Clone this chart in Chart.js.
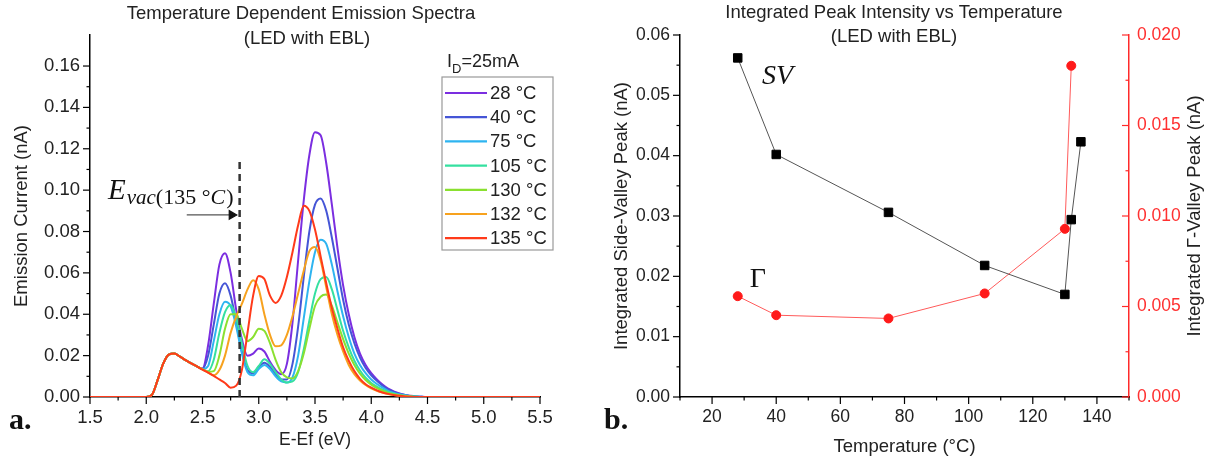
<!DOCTYPE html>
<html>
<head>
<meta charset="utf-8">
<script src="https://cdn.jsdelivr.net/npm/chart.js@4.4.1/dist/chart.umd.min.js"></script>
<style>
  html, body { margin: 0; padding: 0; background: #fff; }
  #wrap { position: relative; width: 1212px; height: 461px; }
  #left { position: absolute; left: 0; top: 0; }
  #right { position: absolute; left: 600px; top: 0; }
</style>
</head>
<body>
<div id="wrap">
  <canvas id="left" width="600" height="461"></canvas>
  <canvas id="right" width="612" height="461"></canvas>
</div>
<script>
// ---- panel a: emission spectra ----
const energies = [1.5, 2.0, 2.05, 2.1, 2.15, 2.2, 2.25, 2.3, 2.35, 2.4, 2.45,
  2.5, 2.55, 2.6, 2.65, 2.7, 2.75, 2.8, 2.85, 2.9, 2.95,
  3.0, 3.05, 3.1, 3.15, 3.2, 3.25, 3.3, 3.35, 3.4, 3.45,
  3.5, 3.55, 3.6, 3.65, 3.7, 3.75, 3.8, 3.85, 3.9, 3.95,
  4.0, 4.05, 4.1, 4.15, 4.2, 4.25, 4.3, 4.35, 4.4, 4.45, 4.5, 5.5];

const spec28 = [0, 0, 0.001, 0.008, 0.016, 0.0205, 0.021, 0.0195, 0.0178, 0.0162, 0.0148,
  0.0138, 0.025, 0.045, 0.064, 0.0695, 0.060, 0.042, 0.028, 0.020, 0.021,
  0.0235, 0.022, 0.017, 0.013, 0.011, 0.016, 0.036, 0.066, 0.095, 0.117,
  0.128, 0.1265, 0.113, 0.093, 0.072, 0.054, 0.040, 0.029, 0.021, 0.0155,
  0.0115, 0.0085, 0.006, 0.004, 0.0027, 0.0017, 0.001, 0.0006, 0.0003, 0.0001, 0, 0];
const spec40 = [0, 0, 0.001, 0.008, 0.016, 0.0205, 0.021, 0.0195, 0.0178, 0.0162, 0.0148,
  0.0136, 0.020, 0.035, 0.050, 0.055, 0.049, 0.036, 0.022, 0.013, 0.0115,
  0.0145, 0.0165, 0.0145, 0.011, 0.0085, 0.0085, 0.016, 0.034, 0.058, 0.080,
  0.093, 0.096, 0.090, 0.077, 0.062, 0.047, 0.035, 0.026, 0.019, 0.014,
  0.0105, 0.0078, 0.0055, 0.0037, 0.0025, 0.0016, 0.001, 0.0005, 0.0002, 0.0001, 0, 0];
const spec75 = [0, 0, 0.001, 0.008, 0.016, 0.0205, 0.021, 0.0195, 0.0178, 0.0162, 0.0148,
  0.0135, 0.015, 0.027, 0.040, 0.046, 0.044, 0.034, 0.021, 0.012, 0.0105,
  0.0135, 0.0155, 0.0135, 0.010, 0.0075, 0.007, 0.0095, 0.020, 0.038, 0.056,
  0.070, 0.076, 0.074, 0.064, 0.051, 0.039, 0.029, 0.021, 0.0155, 0.0115,
  0.0085, 0.0063, 0.0045, 0.003, 0.002, 0.0013, 0.0008, 0.0004, 0.0002, 0.0001, 0, 0];
const spec105 = [0, 0, 0.001, 0.008, 0.016, 0.0205, 0.021, 0.0195, 0.0178, 0.0162, 0.0148,
  0.0134, 0.0125, 0.018, 0.031, 0.041, 0.0445, 0.038, 0.026, 0.015, 0.012,
  0.015, 0.0182, 0.016, 0.012, 0.0085, 0.007, 0.0075, 0.012, 0.023, 0.037,
  0.050, 0.057, 0.058, 0.052, 0.042, 0.032, 0.024, 0.0175, 0.0128, 0.0093,
  0.0068, 0.005, 0.0035, 0.0024, 0.0016, 0.001, 0.0006, 0.0003, 0.0001, 0, 0, 0];
const spec130 = [0, 0, 0.001, 0.008, 0.016, 0.0205, 0.021, 0.0195, 0.0178, 0.0162, 0.0148,
  0.0134, 0.0122, 0.0125, 0.020, 0.033, 0.040, 0.040, 0.033, 0.027, 0.029,
  0.033, 0.032, 0.026, 0.018, 0.012, 0.0095, 0.009, 0.0125, 0.021, 0.033,
  0.044, 0.0485, 0.0495, 0.044, 0.036, 0.028, 0.021, 0.0155, 0.0113, 0.0082,
  0.006, 0.0043, 0.003, 0.002, 0.0013, 0.0008, 0.0005, 0.0002, 0.0001, 0, 0, 0];
const spec132 = [0, 0, 0.001, 0.008, 0.016, 0.0205, 0.021, 0.0195, 0.0178, 0.0162, 0.0148,
  0.0134, 0.0118, 0.0105, 0.013, 0.020, 0.031, 0.039, 0.045, 0.052, 0.0565,
  0.052, 0.040, 0.030, 0.0245, 0.025, 0.030, 0.039, 0.050, 0.061, 0.0705,
  0.0725, 0.066, 0.053, 0.040, 0.030, 0.022, 0.0155, 0.011, 0.008, 0.0058,
  0.0042, 0.003, 0.0021, 0.0014, 0.0009, 0.0005, 0.0003, 0.0001, 0, 0, 0, 0];
const spec135 = [0, 0, 0.001, 0.008, 0.016, 0.0205, 0.021, 0.0195, 0.0178, 0.0162, 0.0148,
  0.0132, 0.0118, 0.0102, 0.0085, 0.0068, 0.0045, 0.0055, 0.013, 0.031, 0.049,
  0.0585, 0.057, 0.049, 0.0455, 0.049, 0.058, 0.070, 0.083, 0.0925, 0.090,
  0.081, 0.068, 0.055, 0.043, 0.033, 0.024, 0.0175, 0.0125, 0.0088, 0.0062,
  0.0045, 0.0032, 0.0022, 0.0015, 0.001, 0.0006, 0.0003, 0.0001, 0, 0, 0, 0];

const specLabels = ["28 °C", "40 °C", "75 °C", "105 °C", "130 °C", "132 °C", "135 °C"];
const specSeries = [spec28, spec40, spec75, spec105, spec130, spec132, spec135];
const specColors = ["#7b2ee0", "#4555d6", "#2eb4f0", "#35e0a0", "#8ae030", "#f7a21e", "#ff3a1a"];

const evacLine = [{x: 2.83, y: 0}, {x: 2.83, y: 0.114}];
const evacArrow = [{x: 2.36, y: 0.088}, {x: 2.76, y: 0.088}];

// ---- panel b: integrated peaks ----
const svTemps = [28, 40, 75, 105, 130, 132, 135];
const svPeak = [0.0562, 0.0402, 0.0306, 0.0218, 0.0170, 0.0294, 0.0423];
const gammaTemps = [28, 40, 75, 105, 130, 132];
const gammaPeak = [0.00557, 0.00452, 0.00434, 0.00572, 0.00929, 0.01830];

Chart.defaults.font.family = "'Liberation Sans', Arial, sans-serif";
Chart.defaults.color = "#222";

function isMult(v, step) {
  const r = v / step;
  return Math.abs(r - Math.round(r)) < 1e-6;
}

const axisGrid = {display: true, drawOnChartArea: false, drawTicks: false};
const axisBorder = {display: true, color: "#000", width: 1.5};

// major / minor tick marks, drawn on every axis
const tickMarks = {
  id: "tickMarks",
  afterDraw(chart) {
    const ctx = chart.ctx;
    Object.values(chart.scales).forEach(function (s) {
      const pos = s.options.position;
      const step = s.options.ticks.stepSize;
      ctx.save();
      ctx.strokeStyle = s.options.border.color;
      ctx.lineWidth = 1.2;
      s.ticks.forEach(function (t) {
        if (!isMult(t.value, step)) return;
        const len = t.label === "" ? 3.5 : 7;
        const p = s.getPixelForValue(t.value);
        ctx.beginPath();
        if (pos === "bottom") {
          ctx.moveTo(p, s.top); ctx.lineTo(p, s.top + len);
        } else if (pos === "left") {
          ctx.moveTo(s.right, p); ctx.lineTo(s.right - len, p);
        } else {
          ctx.moveTo(s.left, p); ctx.lineTo(s.left - len, p);
        }
        ctx.stroke();
      });
      ctx.restore();
    });
  }
};

const leftDecor = {
  id: "leftDecor",
  afterDraw(chart) {
    const ctx = chart.ctx;
    const xs = chart.scales.x, ys = chart.scales.y;
    ctx.save();
    ctx.fillStyle = "#222";
    ctx.textAlign = "center";
    ctx.textBaseline = "middle";
    ctx.font = "18.5px 'Liberation Sans', Arial";
    ctx.fillText("Temperature Dependent Emission Spectra", 301, 14);
    ctx.fillText("(LED with EBL)", 307, 39);

    // legend
    const bx = 442, by = 77, bw = 111, bh = 173;
    ctx.textAlign = "left";
    ctx.font = "18px 'Liberation Sans', Arial";
    let tx = 447;
    ctx.fillText("I", tx, 62);
    tx += ctx.measureText("I").width;
    ctx.font = "13px 'Liberation Sans', Arial";
    ctx.fillText("D", tx, 69);
    tx += ctx.measureText("D").width;
    ctx.font = "18px 'Liberation Sans', Arial";
    ctx.fillText("=25mA", tx, 62);
    ctx.strokeStyle = "#999";
    ctx.lineWidth = 1.2;
    ctx.strokeRect(bx, by, bw, bh);
    ctx.font = "18.5px 'Liberation Sans', Arial";
    specLabels.forEach(function (lab, i) {
      const yy = 93 + i * 24.2;
      ctx.strokeStyle = specColors[i];
      ctx.lineWidth = 2.2;
      ctx.beginPath();
      ctx.moveTo(445, yy);
      ctx.lineTo(487, yy);
      ctx.stroke();
      ctx.fillStyle = "#222";
      ctx.fillText(lab, 490, yy + 1);
    });

    // E_vac label
    let px = xs.getPixelForValue(1.66), py = ys.getPixelForValue(0.0955);
    ctx.fillStyle = "#111";
    ctx.textBaseline = "alphabetic";
    ctx.font = "italic 29px 'Liberation Serif', serif";
    ctx.fillText("E", px, py);
    px += ctx.measureText("E").width + 1;
    ctx.font = "italic 21px 'Liberation Serif', serif";
    ctx.fillText("vac", px, py + 5);
    px += ctx.measureText("vac").width;
    ctx.font = "22px 'Liberation Serif', serif";
    ctx.fillText("(135 °", px, py + 5);
    px += ctx.measureText("(135 °").width;
    ctx.font = "italic 22px 'Liberation Serif', serif";
    ctx.fillText("C", px, py + 5);
    px += ctx.measureText("C").width + 1;
    ctx.font = "22px 'Liberation Serif', serif";
    ctx.fillText(")", px, py + 5);

    ctx.font = "bold 30px 'Liberation Serif', serif";
    ctx.fillText("a.", 9, 429);
    ctx.restore();
  }
};

const specDatasets = specSeries.map(function (s, i) {
  return {
    label: specLabels[i],
    data: s.map(function (v, j) { return {x: energies[j], y: v}; }),
    borderColor: specColors[i],
    borderWidth: 2,
    pointRadius: 0,
    cubicInterpolationMode: "monotone",
    order: 10 - i
  };
});
specDatasets.push({
  label: "Evac",
  data: evacLine,
  borderColor: "#333",
  borderWidth: 2.5,
  borderDash: [7, 5],
  pointRadius: 0,
  order: 0
});
specDatasets.push({
  label: "arrow",
  data: evacArrow,
  borderColor: "#555",
  borderWidth: 1.2,
  pointRadius: [0, 5],
  pointStyle: "triangle",
  rotation: 90,
  pointBackgroundColor: "#111",
  pointBorderColor: "#111",
  order: 0
});

new Chart(document.getElementById("left"), {
  type: "line",
  data: {datasets: specDatasets},
  options: {
    responsive: false,
    animation: false,
    devicePixelRatio: 1,
    layout: {padding: {top: 35, right: 60, left: 0, bottom: 0}},
    plugins: {legend: {display: false}, tooltip: {enabled: false}},
    scales: {
      x: {
        type: "linear",
        position: "bottom",
        min: 1.5, max: 5.5,
        afterFit: function (s) { s.height = 64; },
        grid: axisGrid,
        border: axisBorder,
        ticks: {
          stepSize: 0.25, autoSkip: false, maxRotation: 0, padding: 10,
          font: {size: 18.5}, color: "#222",
          callback: function (v) { return isMult(v, 0.5) ? v.toFixed(1) : ""; }
        },
        title: {display: true, text: "E-Ef (eV)", font: {size: 17.5}, color: "#222", padding: {top: 2, bottom: 10}}
      },
      y: {
        position: "left",
        min: 0, max: 0.175,
        afterFit: function (s) { s.width = 90; },
        grid: axisGrid,
        border: axisBorder,
        ticks: {
          stepSize: 0.01, autoSkip: false, padding: 10,
          font: {size: 18.5}, color: "#222",
          callback: function (v) { return (isMult(v, 0.02) && v < 0.165) ? v.toFixed(2) : ""; }
        },
        title: {display: true, text: "Emission Current (nA)", font: {size: 18.5}, color: "#222", padding: {top: 11, bottom: 4}}
      }
    }
  },
  plugins: [tickMarks, leftDecor]
});

const rightDecor = {
  id: "rightDecor",
  afterDraw(chart) {
    const ctx = chart.ctx;
    const xs = chart.scales.x, ys = chart.scales.y;
    ctx.save();
    ctx.fillStyle = "#222";
    ctx.textAlign = "center";
    ctx.textBaseline = "middle";
    ctx.font = "18.5px 'Liberation Sans', Arial";
    ctx.fillText("Integrated Peak Intensity vs Temperature", 294, 13);
    ctx.fillText("(LED with EBL)", 294, 37);

    ctx.fillStyle = "#111";
    ctx.font = "italic 28px 'Liberation Serif', serif";
    ctx.fillText("SV", xs.getPixelForValue(40.4), ys.getPixelForValue(0.0531));
    ctx.font = "28px 'Liberation Serif', serif";
    ctx.fillText("\u0393", xs.getPixelForValue(34.3), ys.getPixelForValue(0.0194));

    // right axis title, reading upwards
    ctx.save();
    ctx.translate(595, (chart.chartArea.top + chart.chartArea.bottom) / 2);
    ctx.rotate(-Math.PI / 2);
    ctx.fillStyle = "#222";
    ctx.font = "18.5px 'Liberation Sans', Arial";
    ctx.fillText("Integrated \u0393-Valley Peak (nA)", 0, 0);
    ctx.restore();

    ctx.textAlign = "left";
    ctx.textBaseline = "alphabetic";
    ctx.font = "bold 30px 'Liberation Serif', serif";
    ctx.fillText("b.", 4, 429);
    ctx.restore();
  }
};

new Chart(document.getElementById("right"), {
  type: "line",
  data: {
    datasets: [
      {
        label: "SV",
        data: svTemps.map(function (t, i) { return {x: t, y: svPeak[i]}; }),
        yAxisID: "y",
        borderColor: "#555",
        borderWidth: 1,
        pointStyle: "rect",
        pointRadius: 6,
        pointBackgroundColor: "#000",
        pointBorderColor: "#000"
      },
      {
        label: "Gamma",
        data: gammaTemps.map(function (t, i) { return {x: t, y: gammaPeak[i]}; }),
        yAxisID: "y2",
        borderColor: "#ff5a5a",
        borderWidth: 1,
        pointStyle: "circle",
        pointRadius: 4.5,
        pointBackgroundColor: "#ff1a1a",
        pointBorderColor: "#ff1a1a"
      }
    ]
  },
  options: {
    responsive: false,
    animation: false,
    devicePixelRatio: 1,
    layout: {padding: {top: 35, right: 0, left: 0, bottom: 0}},
    plugins: {legend: {display: false}, tooltip: {enabled: false}},
    scales: {
      x: {
        type: "linear",
        position: "bottom",
        min: 10, max: 150,
        afterFit: function (s) { s.height = 64; },
        grid: axisGrid,
        border: axisBorder,
        ticks: {
          stepSize: 10, autoSkip: false, maxRotation: 0, padding: 10,
          font: {size: 17.5}, color: "#222",
          callback: function (v) { return (v % 20 === 0 && v >= 20 && v <= 140) ? String(v) : ""; }
        },
        title: {display: true, text: "Temperature (°C)", font: {size: 18.5}, color: "#222", padding: {top: 2, bottom: 3}}
      },
      y: {
        position: "left",
        min: 0, max: 0.06,
        afterFit: function (s) { s.width = 80; },
        grid: axisGrid,
        border: axisBorder,
        ticks: {
          stepSize: 0.005, autoSkip: false, padding: 10,
          font: {size: 17.5}, color: "#222",
          callback: function (v) { return isMult(v, 0.01) ? v.toFixed(2) : ""; }
        },
        title: {display: true, text: "Integrated Side-Valley Peak (nA)", font: {size: 18.5}, color: "#222", padding: {top: 11, bottom: 4}}
      },
      y2: {
        position: "right",
        min: 0, max: 0.02,
        afterFit: function (s) { s.width = 83; },
        grid: axisGrid,
        border: {display: true, color: "#ff2a2a", width: 1.5},
        ticks: {
          stepSize: 0.0025, autoSkip: false, padding: 8,
          font: {size: 17.5}, color: "#ff3030",
          callback: function (v) { return isMult(v, 0.005) ? v.toFixed(3) : ""; }
        }
      }
    }
  },
  plugins: [tickMarks, rightDecor]
});
</script>
</body>
</html>
